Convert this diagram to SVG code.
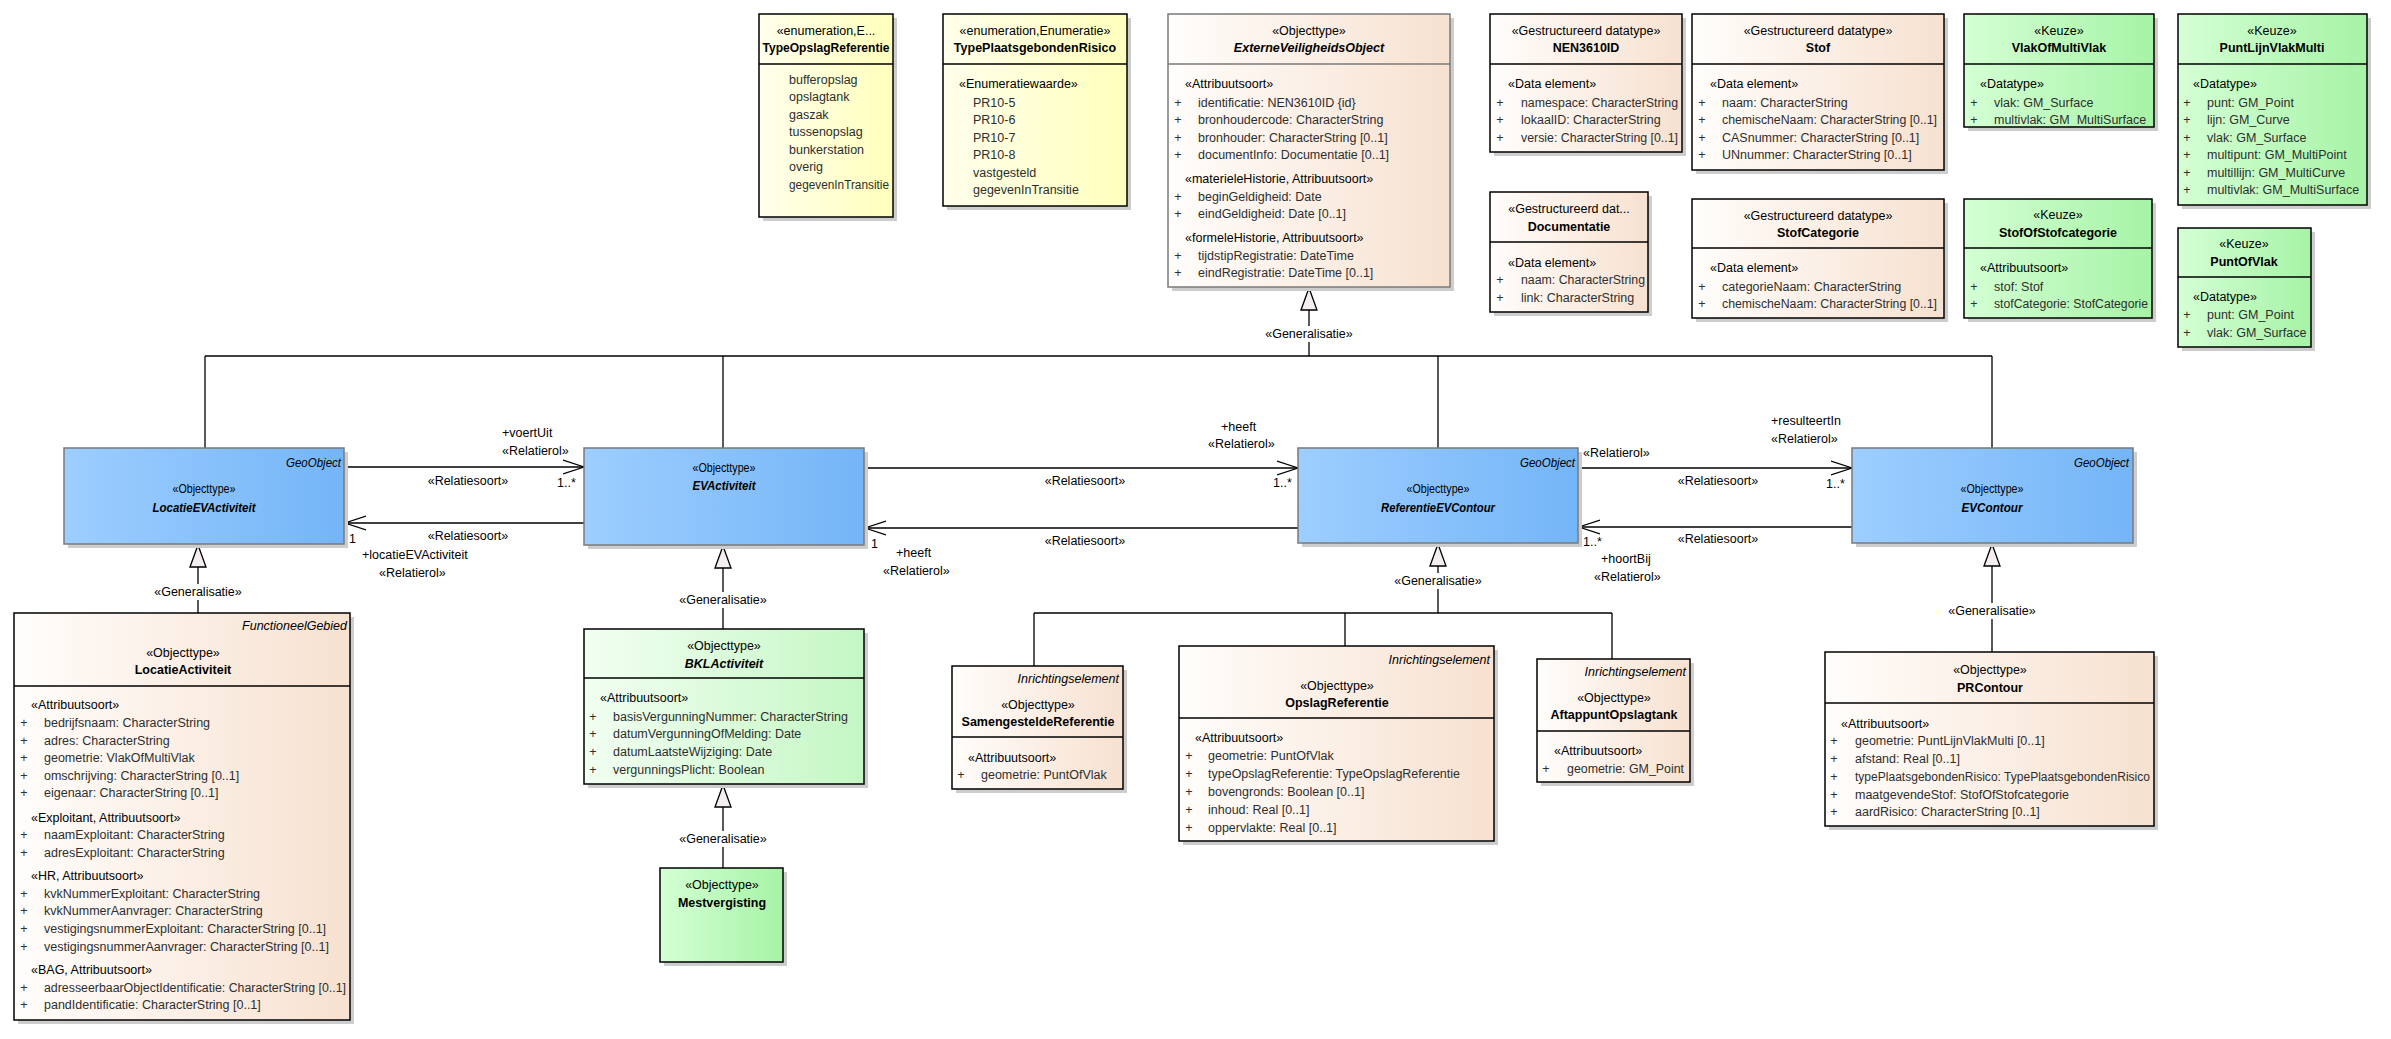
<svg xmlns="http://www.w3.org/2000/svg" width="2391" height="1039" viewBox="0 0 2391 1039">
<style>
text{font-family:"Liberation Sans",Arial,sans-serif;font-size:12.5px;fill:#000}
.c{text-anchor:middle}.r{text-anchor:end}
.b{font-weight:bold}.i{font-style:italic}.bi{font-weight:bold;font-style:italic}
.a{fill:#2e2e2e}
.box{stroke:#000;stroke-width:1.5}
.abs{stroke:#7a7a7a;stroke-width:1.5}
.sh{fill:#cdcdcd}
.dv{stroke:#000;stroke-width:1.5}
.ln{stroke:#000;stroke-width:1.3;fill:none}
.as{marker-end:url(#open)}
.gn{marker-end:url(#tri)}
.bg{fill:#fff}
</style>
<defs>
<linearGradient id="gY" x1="0" x2="1" y1="0" y2="0"><stop offset="0" stop-color="#FFFFEC"/><stop offset="1" stop-color="#FFFFBC"/></linearGradient>
<linearGradient id="gP" x1="0" x2="1" y1="0" y2="0"><stop offset="0" stop-color="#FFFDFB"/><stop offset="1" stop-color="#F7E1D0"/></linearGradient>
<linearGradient id="gB" x1="0" x2="1" y1="0" y2="0"><stop offset="0" stop-color="#9DCEFF"/><stop offset="1" stop-color="#74B5F7"/></linearGradient>
<linearGradient id="gG" x1="0" x2="1" y1="0" y2="0"><stop offset="0" stop-color="#D4FFD4"/><stop offset="1" stop-color="#A6F3A6"/></linearGradient>
<linearGradient id="gL" x1="0" x2="1" y1="0" y2="0"><stop offset="0" stop-color="#F2FFF2"/><stop offset="1" stop-color="#C4F7C4"/></linearGradient>
<marker id="open" markerUnits="userSpaceOnUse" markerWidth="24" markerHeight="18" refX="21" refY="8" orient="auto"><path d="M0,1 L21,8 L0,15" fill="none" stroke="#000" stroke-width="1.3"/></marker>
<marker id="tri" markerUnits="userSpaceOnUse" markerWidth="26" markerHeight="20" refX="23" refY="9" orient="auto"><path d="M1,1 L23,9 L1,17 Z" fill="#F4EEEE" stroke="#000" stroke-width="1.3"/></marker>
</defs>
<rect width="2391" height="1039" fill="#fff"/>

<g id="connectors">
<line class="ln" x1="205" y1="356" x2="1992" y2="356"/>
<line class="ln" x1="205" y1="356" x2="205" y2="448"/>
<line class="ln" x1="723" y1="356" x2="723" y2="448"/>
<line class="ln" x1="1438" y1="356" x2="1438" y2="448"/>
<line class="ln" x1="1992" y1="356" x2="1992" y2="448"/>
<line class="ln gn" x1="1309" y1="356" x2="1309" y2="288"/>
<rect class="bg" x="1264" y="326" width="90" height="16"/>
<text class="c" x="1309" y="338">«Generalisatie»</text>

<line class="ln gn" x1="198" y1="613" x2="198" y2="545"/>
<rect class="bg" x="153" y="584" width="90" height="16"/>
<text class="c" x="198" y="596">«Generalisatie»</text>
<line class="ln gn" x1="723" y1="629" x2="723" y2="546"/>
<rect class="bg" x="678" y="592" width="90" height="16"/>
<text class="c" x="723" y="604">«Generalisatie»</text>
<line class="ln gn" x1="723" y1="868" x2="723" y2="785"/>
<rect class="bg" x="678" y="831" width="90" height="16"/>
<text class="c" x="723" y="843">«Generalisatie»</text>
<line class="ln gn" x1="1992" y1="652" x2="1992" y2="544"/>
<rect class="bg" x="1947" y="603" width="90" height="16"/>
<text class="c" x="1992" y="615">«Generalisatie»</text>

<line class="ln" x1="1034" y1="613" x2="1612" y2="613"/>
<line class="ln" x1="1034" y1="613" x2="1034" y2="666"/>
<line class="ln" x1="1345" y1="613" x2="1345" y2="646"/>
<line class="ln" x1="1612" y1="613" x2="1612" y2="659"/>
<line class="ln gn" x1="1438" y1="613" x2="1438" y2="544"/>
<rect class="bg" x="1393" y="573" width="90" height="16"/>
<text class="c" x="1438" y="585">«Generalisatie»</text>

<line class="ln as" x1="344" y1="467" x2="584" y2="467"/>
<text x="502" y="437">+voertUit</text>
<text x="502" y="455">«Relatierol»</text>
<text class="c" x="468" y="485">«Relatiesoort»</text>
<text x="557" y="487">1..*</text>
<line class="ln as" x1="584" y1="523" x2="345" y2="523"/>
<text x="349" y="543">1</text>
<text class="c" x="468" y="540">«Relatiesoort»</text>
<text x="362" y="559">+locatieEVActiviteit</text>
<text x="379" y="577">«Relatierol»</text>

<line class="ln as" x1="864" y1="468" x2="1298" y2="468"/>
<text class="c" x="1085" y="485">«Relatiesoort»</text>
<text x="1221" y="431">+heeft</text>
<text x="1208" y="448">«Relatierol»</text>
<text x="1273" y="487">1..*</text>
<line class="ln as" x1="1298" y1="528" x2="865" y2="528"/>
<text x="871" y="548">1</text>
<text class="c" x="1085" y="545">«Relatiesoort»</text>
<text x="896" y="557">+heeft</text>
<text x="883" y="575">«Relatierol»</text>

<line class="ln as" x1="1578" y1="468" x2="1852" y2="468"/>
<text x="1583" y="457">«Relatierol»</text>
<text class="c" x="1718" y="485">«Relatiesoort»</text>
<text x="1771" y="425">+resulteertIn</text>
<text x="1771" y="443">«Relatierol»</text>
<text x="1826" y="488">1..*</text>
<line class="ln as" x1="1852" y1="527" x2="1579" y2="527"/>
<text x="1583" y="546">1..*</text>
<text class="c" x="1718" y="543">«Relatiesoort»</text>
<text x="1601" y="563">+hoortBij</text>
<text x="1594" y="581">«Relatierol»</text>
</g>

<g id="TypeOpslagReferentie">
<rect class="sh" x="763" y="18" width="134" height="203"/>
<rect class="box" x="759" y="14" width="134" height="203" fill="url(#gY)"/>
<line class="dv" x1="759" y1="64" x2="893" y2="64"/>
<text class="c" x="826" y="35">«enumeration,E...</text>
<text class="c b" x="826" y="52" textLength="127" lengthAdjust="spacingAndGlyphs">TypeOpslagReferentie</text>
<text class="a" x="789" y="83.5">bufferopslag</text>
<text class="a" x="789" y="101">opslagtank</text>
<text class="a" x="789" y="118.5">gaszak</text>
<text class="a" x="789" y="136">tussenopslag</text>
<text class="a" x="789" y="153.5">bunkerstation</text>
<text class="a" x="789" y="171">overig</text>
<text class="a" x="789" y="188.5" textLength="100" lengthAdjust="spacingAndGlyphs">gegevenInTransitie</text>
</g>

<g id="TypePlaatsgebondenRisico">
<rect class="sh" x="947" y="18" width="184" height="192"/>
<rect class="box" x="943" y="14" width="184" height="192" fill="url(#gY)"/>
<line class="dv" x1="943" y1="64" x2="1127" y2="64"/>
<text class="c" x="1035" y="35">«enumeration,Enumeratie»</text>
<text class="c b" x="1035" y="52">TypePlaatsgebondenRisico</text>
<text x="959" y="87.5">«Enumeratiewaarde»</text>
<text class="a" x="973" y="106.5">PR10-5</text>
<text class="a" x="973" y="124">PR10-6</text>
<text class="a" x="973" y="141.5">PR10-7</text>
<text class="a" x="973" y="159">PR10-8</text>
<text class="a" x="973" y="176.5">vastgesteld</text>
<text class="a" x="973" y="194">gegevenInTransitie</text>
</g>

<g id="ExterneVeiligheidsObject">
<rect class="sh" x="1172" y="18" width="282" height="273"/>
<rect class="abs" x="1168" y="14" width="282" height="273" fill="url(#gP)"/>
<line class="abs" x1="1168" y1="64" x2="1450" y2="64"/>
<text class="c" x="1309" y="35">«Objecttype»</text>
<text class="c bi" x="1309" y="52">ExterneVeiligheidsObject</text>
<text x="1185" y="87.5">«Attribuutsoort»</text>
<text class="a c" x="1178" y="106.5">+</text><text class="a" x="1198" y="106.5">identificatie: NEN3610ID {id}</text>
<text class="a c" x="1178" y="124">+</text><text class="a" x="1198" y="124">bronhoudercode: CharacterString</text>
<text class="a c" x="1178" y="141.5">+</text><text class="a" x="1198" y="141.5">bronhouder: CharacterString [0..1]</text>
<text class="a c" x="1178" y="159">+</text><text class="a" x="1198" y="159">documentInfo: Documentatie [0..1]</text>
<text x="1185" y="182.5">«materieleHistorie, Attribuutsoort»</text>
<text class="a c" x="1178" y="200.5">+</text><text class="a" x="1198" y="200.5">beginGeldigheid: Date</text>
<text class="a c" x="1178" y="218">+</text><text class="a" x="1198" y="218">eindGeldigheid: Date [0..1]</text>
<text x="1185" y="241.5">«formeleHistorie, Attribuutsoort»</text>
<text class="a c" x="1178" y="259.5">+</text><text class="a" x="1198" y="259.5">tijdstipRegistratie: DateTime</text>
<text class="a c" x="1178" y="277">+</text><text class="a" x="1198" y="277">eindRegistratie: DateTime [0..1]</text>
</g>

<g id="NEN3610ID">
<rect class="sh" x="1494" y="18" width="192" height="138"/>
<rect class="box" x="1490" y="14" width="192" height="138" fill="url(#gP)"/>
<line class="dv" x1="1490" y1="64" x2="1682" y2="64"/>
<text class="c" x="1586" y="35">«Gestructureerd datatype»</text>
<text class="c b" x="1586" y="52">NEN3610ID</text>
<text x="1508" y="87.5">«Data element»</text>
<text class="a c" x="1500" y="106.5">+</text><text class="a" x="1521" y="106.5" textLength="157" lengthAdjust="spacingAndGlyphs">namespace: CharacterString</text>
<text class="a c" x="1500" y="124">+</text><text class="a" x="1521" y="124">lokaalID: CharacterString</text>
<text class="a c" x="1500" y="141.5">+</text><text class="a" x="1521" y="141.5" textLength="157" lengthAdjust="spacingAndGlyphs">versie: CharacterString [0..1]</text>
</g>

<g id="Stof">
<rect class="sh" x="1696" y="18" width="252" height="156"/>
<rect class="box" x="1692" y="14" width="252" height="156" fill="url(#gP)"/>
<line class="dv" x1="1692" y1="64" x2="1944" y2="64"/>
<text class="c" x="1818" y="35">«Gestructureerd datatype»</text>
<text class="c b" x="1818" y="52">Stof</text>
<text x="1710" y="87.5">«Data element»</text>
<text class="a c" x="1702" y="106.5">+</text><text class="a" x="1722" y="106.5">naam: CharacterString</text>
<text class="a c" x="1702" y="124">+</text><text class="a" x="1722" y="124" textLength="215" lengthAdjust="spacingAndGlyphs">chemischeNaam: CharacterString [0..1]</text>
<text class="a c" x="1702" y="141.5">+</text><text class="a" x="1722" y="141.5">CASnummer: CharacterString [0..1]</text>
<text class="a c" x="1702" y="159">+</text><text class="a" x="1722" y="159">UNnummer: CharacterString [0..1]</text>
</g>

<g id="Documentatie">
<rect class="sh" x="1494" y="196" width="158" height="120"/>
<rect class="box" x="1490" y="192" width="158" height="120" fill="url(#gP)"/>
<line class="dv" x1="1490" y1="242" x2="1648" y2="242"/>
<text class="c" x="1569" y="212.5">«Gestructureerd dat...</text>
<text class="c b" x="1569" y="230.5">Documentatie</text>
<text x="1508" y="266.5">«Data element»</text>
<text class="a c" x="1500" y="283.5">+</text><text class="a" x="1521" y="283.5" textLength="124" lengthAdjust="spacingAndGlyphs">naam: CharacterString</text>
<text class="a c" x="1500" y="301.5">+</text><text class="a" x="1521" y="301.5">link: CharacterString</text>
</g>

<g id="StofCategorie">
<rect class="sh" x="1696" y="203" width="252" height="119"/>
<rect class="box" x="1692" y="199" width="252" height="119" fill="url(#gP)"/>
<line class="dv" x1="1692" y1="248" x2="1944" y2="248"/>
<text class="c" x="1818" y="219.5">«Gestructureerd datatype»</text>
<text class="c b" x="1818" y="236.5">StofCategorie</text>
<text x="1710" y="271.5">«Data element»</text>
<text class="a c" x="1702" y="290.5">+</text><text class="a" x="1722" y="290.5">categorieNaam: CharacterString</text>
<text class="a c" x="1702" y="307.5">+</text><text class="a" x="1722" y="307.5" textLength="215" lengthAdjust="spacingAndGlyphs">chemischeNaam: CharacterString [0..1]</text>
</g>

<g id="VlakOfMultiVlak">
<rect class="sh" x="1968" y="18" width="190" height="113"/>
<rect class="box" x="1964" y="14" width="190" height="113" fill="url(#gG)"/>
<line class="dv" x1="1964" y1="64" x2="2154" y2="64"/>
<text class="c" x="2059" y="35">«Keuze»</text>
<text class="c b" x="2059" y="52">VlakOfMultiVlak</text>
<text x="1980" y="87.5">«Datatype»</text>
<text class="a c" x="1974" y="106.5">+</text><text class="a" x="1994" y="106.5">vlak: GM_Surface</text>
<text class="a c" x="1974" y="124">+</text><text class="a" x="1994" y="124">multivlak: GM_MultiSurface</text>
</g>

<g id="PuntLijnVlakMulti">
<rect class="sh" x="2182" y="18" width="189" height="191"/>
<rect class="box" x="2178" y="14" width="189" height="191" fill="url(#gG)"/>
<line class="dv" x1="2178" y1="64" x2="2367" y2="64"/>
<text class="c" x="2272" y="35">«Keuze»</text>
<text class="c b" x="2272" y="52">PuntLijnVlakMulti</text>
<text x="2193" y="87.5">«Datatype»</text>
<text class="a c" x="2187" y="106.5">+</text><text class="a" x="2207" y="106.5">punt: GM_Point</text>
<text class="a c" x="2187" y="124">+</text><text class="a" x="2207" y="124">lijn: GM_Curve</text>
<text class="a c" x="2187" y="141.5">+</text><text class="a" x="2207" y="141.5">vlak: GM_Surface</text>
<text class="a c" x="2187" y="159">+</text><text class="a" x="2207" y="159">multipunt: GM_MultiPoint</text>
<text class="a c" x="2187" y="176.5">+</text><text class="a" x="2207" y="176.5">multillijn: GM_MultiCurve</text>
<text class="a c" x="2187" y="194">+</text><text class="a" x="2207" y="194">multivlak: GM_MultiSurface</text>
</g>

<g id="StofOfStofcategorie">
<rect class="sh" x="1968" y="203" width="188" height="119"/>
<rect class="box" x="1964" y="199" width="188" height="119" fill="url(#gG)"/>
<line class="dv" x1="1964" y1="248" x2="2152" y2="248"/>
<text class="c" x="2058" y="218.5">«Keuze»</text>
<text class="c b" x="2058" y="236.5">StofOfStofcategorie</text>
<text x="1980" y="271.5">«Attribuutsoort»</text>
<text class="a c" x="1974" y="290.5">+</text><text class="a" x="1994" y="290.5">stof: Stof</text>
<text class="a c" x="1974" y="307.5">+</text><text class="a" x="1994" y="307.5" textLength="154" lengthAdjust="spacingAndGlyphs">stofCategorie: StofCategorie</text>
</g>

<g id="PuntOfVlak">
<rect class="sh" x="2182" y="232" width="133" height="119"/>
<rect class="box" x="2178" y="228" width="133" height="119" fill="url(#gG)"/>
<line class="dv" x1="2178" y1="277" x2="2311" y2="277"/>
<text class="c" x="2244" y="247.5">«Keuze»</text>
<text class="c b" x="2244" y="265.5">PuntOfVlak</text>
<text x="2193" y="300.5">«Datatype»</text>
<text class="a c" x="2187" y="318.5">+</text><text class="a" x="2207" y="318.5">punt: GM_Point</text>
<text class="a c" x="2187" y="336.5">+</text><text class="a" x="2207" y="336.5">vlak: GM_Surface</text>
</g>

<g id="LocatieEVActiviteit">
<rect class="sh" x="68" y="452" width="280" height="96"/>
<rect class="abs" x="64" y="448" width="280" height="96" fill="url(#gB)"/>
<text class="r i" x="341" y="466.5" textLength="55" lengthAdjust="spacingAndGlyphs">GeoObject</text>
<text class="c" x="204" y="492.5" textLength="63" lengthAdjust="spacingAndGlyphs">«Objecttype»</text>
<text class="c bi" x="204" y="511.5" textLength="103" lengthAdjust="spacingAndGlyphs">LocatieEVActiviteit</text>
</g>

<g id="EVActiviteit">
<rect class="sh" x="588" y="452" width="280" height="97"/>
<rect class="abs" x="584" y="448" width="280" height="97" fill="url(#gB)"/>
<text class="c" x="724" y="471.5" textLength="63" lengthAdjust="spacingAndGlyphs">«Objecttype»</text>
<text class="c bi" x="724" y="489.5" textLength="63" lengthAdjust="spacingAndGlyphs">EVActiviteit</text>
</g>

<g id="ReferentieEVContour">
<rect class="sh" x="1302" y="452" width="280" height="95"/>
<rect class="abs" x="1298" y="448" width="280" height="95" fill="url(#gB)"/>
<text class="r i" x="1575" y="466.5" textLength="55" lengthAdjust="spacingAndGlyphs">GeoObject</text>
<text class="c" x="1438" y="492.5" textLength="63" lengthAdjust="spacingAndGlyphs">«Objecttype»</text>
<text class="c bi" x="1438" y="511.5" textLength="114" lengthAdjust="spacingAndGlyphs">ReferentieEVContour</text>
</g>

<g id="EVContour">
<rect class="sh" x="1856" y="452" width="281" height="95"/>
<rect class="abs" x="1852" y="448" width="281" height="95" fill="url(#gB)"/>
<text class="r i" x="2129" y="466.5" textLength="55" lengthAdjust="spacingAndGlyphs">GeoObject</text>
<text class="c" x="1992" y="492.5" textLength="63" lengthAdjust="spacingAndGlyphs">«Objecttype»</text>
<text class="c bi" x="1992" y="511.5" textLength="61" lengthAdjust="spacingAndGlyphs">EVContour</text>
</g>

<g id="LocatieActiviteit">
<rect class="sh" x="18" y="617" width="336" height="407"/>
<rect class="box" x="14" y="613" width="336" height="407" fill="url(#gP)"/>
<line class="dv" x1="14" y1="686" x2="350" y2="686"/>
<text class="r i" x="347" y="629.5">FunctioneelGebied</text>
<text class="c" x="183" y="656.5">«Objecttype»</text>
<text class="c b" x="183" y="673.5">LocatieActiviteit</text>
<text x="31" y="708.5">«Attribuutsoort»</text>
<text class="a c" x="24" y="726.5">+</text><text class="a" x="44" y="726.5">bedrijfsnaam: CharacterString</text>
<text class="a c" x="24" y="744.5">+</text><text class="a" x="44" y="744.5">adres: CharacterString</text>
<text class="a c" x="24" y="762">+</text><text class="a" x="44" y="762">geometrie: VlakOfMultiVlak</text>
<text class="a c" x="24" y="779.5">+</text><text class="a" x="44" y="779.5">omschrijving: CharacterString [0..1]</text>
<text class="a c" x="24" y="797">+</text><text class="a" x="44" y="797">eigenaar: CharacterString [0..1]</text>
<text x="31" y="821.5">«Exploitant, Attribuutsoort»</text>
<text class="a c" x="24" y="838.5">+</text><text class="a" x="44" y="838.5">naamExploitant: CharacterString</text>
<text class="a c" x="24" y="856.5">+</text><text class="a" x="44" y="856.5">adresExploitant: CharacterString</text>
<text x="31" y="879.5">«HR, Attribuutsoort»</text>
<text class="a c" x="24" y="897.5">+</text><text class="a" x="44" y="897.5">kvkNummerExploitant: CharacterString</text>
<text class="a c" x="24" y="914.5">+</text><text class="a" x="44" y="914.5">kvkNummerAanvrager: CharacterString</text>
<text class="a c" x="24" y="933">+</text><text class="a" x="44" y="933">vestigingsnummerExploitant: CharacterString [0..1]</text>
<text class="a c" x="24" y="951">+</text><text class="a" x="44" y="951">vestigingsnummerAanvrager: CharacterString [0..1]</text>
<text x="31" y="973.5">«BAG, Attribuutsoort»</text>
<text class="a c" x="24" y="991.5">+</text><text class="a" x="44" y="991.5" textLength="302" lengthAdjust="spacingAndGlyphs">adresseerbaarObjectIdentificatie: CharacterString [0..1]</text>
<text class="a c" x="24" y="1008.5">+</text><text class="a" x="44" y="1008.5">pandIdentificatie: CharacterString [0..1]</text>
</g>

<g id="BKLActiviteit">
<rect class="sh" x="588" y="633" width="280" height="155"/>
<rect class="box" x="584" y="629" width="280" height="155" fill="url(#gL)"/>
<line class="dv" x1="584" y1="678" x2="864" y2="678"/>
<text class="c" x="724" y="649.5">«Objecttype»</text>
<text class="c bi" x="724" y="667.5">BKLActiviteit</text>
<text x="600" y="701.5">«Attribuutsoort»</text>
<text class="a c" x="593" y="720.5">+</text><text class="a" x="613" y="720.5">basisVergunningNummer: CharacterString</text>
<text class="a c" x="593" y="737.5">+</text><text class="a" x="613" y="737.5">datumVergunningOfMelding: Date</text>
<text class="a c" x="593" y="755.5">+</text><text class="a" x="613" y="755.5">datumLaatsteWijziging: Date</text>
<text class="a c" x="593" y="773.5">+</text><text class="a" x="613" y="773.5">vergunningsPlicht: Boolean</text>
</g>

<g id="Mestvergisting">
<rect class="sh" x="664" y="872" width="123" height="94"/>
<rect class="box" x="660" y="868" width="123" height="94" fill="url(#gG)"/>
<text class="c" x="722" y="888.5">«Objecttype»</text>
<text class="c b" x="722" y="906.5">Mestvergisting</text>
</g>

<g id="SamengesteldeReferentie">
<rect class="sh" x="956" y="670" width="171" height="123"/>
<rect class="box" x="952" y="666" width="171" height="123" fill="url(#gP)"/>
<line class="dv" x1="952" y1="737" x2="1123" y2="737"/>
<text class="r i" x="1119" y="682.5">Inrichtingselement</text>
<text class="c" x="1038" y="708.5">«Objecttype»</text>
<text class="c b" x="1038" y="725.5">SamengesteldeReferentie</text>
<text x="968" y="761.5">«Attribuutsoort»</text>
<text class="a c" x="961" y="778.5">+</text><text class="a" x="981" y="778.5">geometrie: PuntOfVlak</text>
</g>

<g id="OpslagReferentie">
<rect class="sh" x="1183" y="650" width="315" height="195"/>
<rect class="box" x="1179" y="646" width="315" height="195" fill="url(#gP)"/>
<line class="dv" x1="1179" y1="718" x2="1494" y2="718"/>
<text class="r i" x="1490" y="663.5">Inrichtingselement</text>
<text class="c" x="1337" y="689.5">«Objecttype»</text>
<text class="c b" x="1337" y="706.5">OpslagReferentie</text>
<text x="1195" y="741.5">«Attribuutsoort»</text>
<text class="a c" x="1189" y="759.5">+</text><text class="a" x="1208" y="759.5">geometrie: PuntOfVlak</text>
<text class="a c" x="1189" y="777.5">+</text><text class="a" x="1208" y="777.5">typeOpslagReferentie: TypeOpslagReferentie</text>
<text class="a c" x="1189" y="795.5">+</text><text class="a" x="1208" y="795.5">bovengronds: Boolean [0..1]</text>
<text class="a c" x="1189" y="813.5">+</text><text class="a" x="1208" y="813.5">inhoud: Real [0..1]</text>
<text class="a c" x="1189" y="831.5">+</text><text class="a" x="1208" y="831.5">oppervlakte: Real [0..1]</text>
</g>

<g id="AftappuntOpslagtank">
<rect class="sh" x="1541" y="663" width="153" height="123"/>
<rect class="box" x="1537" y="659" width="153" height="123" fill="url(#gP)"/>
<line class="dv" x1="1537" y1="731" x2="1690" y2="731"/>
<text class="r i" x="1686" y="675.5">Inrichtingselement</text>
<text class="c" x="1614" y="701.5">«Objecttype»</text>
<text class="c b" x="1614" y="718.5">AftappuntOpslagtank</text>
<text x="1554" y="754.5">«Attribuutsoort»</text>
<text class="a c" x="1546" y="772.5">+</text><text class="a" x="1567" y="772.5" textLength="117" lengthAdjust="spacingAndGlyphs">geometrie: GM_Point</text>
</g>

<g id="PRContour">
<rect class="sh" x="1829" y="656" width="329" height="174"/>
<rect class="box" x="1825" y="652" width="329" height="174" fill="url(#gP)"/>
<line class="dv" x1="1825" y1="703" x2="2154" y2="703"/>
<text class="c" x="1990" y="673.5">«Objecttype»</text>
<text class="c b" x="1990" y="691.5">PRContour</text>
<text x="1841" y="727.5">«Attribuutsoort»</text>
<text class="a c" x="1834" y="744.5">+</text><text class="a" x="1855" y="744.5">geometrie: PuntLijnVlakMulti [0..1]</text>
<text class="a c" x="1834" y="762.5">+</text><text class="a" x="1855" y="762.5">afstand: Real [0..1]</text>
<text class="a c" x="1834" y="780.5">+</text><text class="a" x="1855" y="780.5" textLength="295" lengthAdjust="spacingAndGlyphs">typePlaatsgebondenRisico: TypePlaatsgebondenRisico</text>
<text class="a c" x="1834" y="798.5">+</text><text class="a" x="1855" y="798.5">maatgevendeStof: StofOfStofcategorie</text>
<text class="a c" x="1834" y="815.5">+</text><text class="a" x="1855" y="815.5">aardRisico: CharacterString [0..1]</text>
</g>
</svg>
